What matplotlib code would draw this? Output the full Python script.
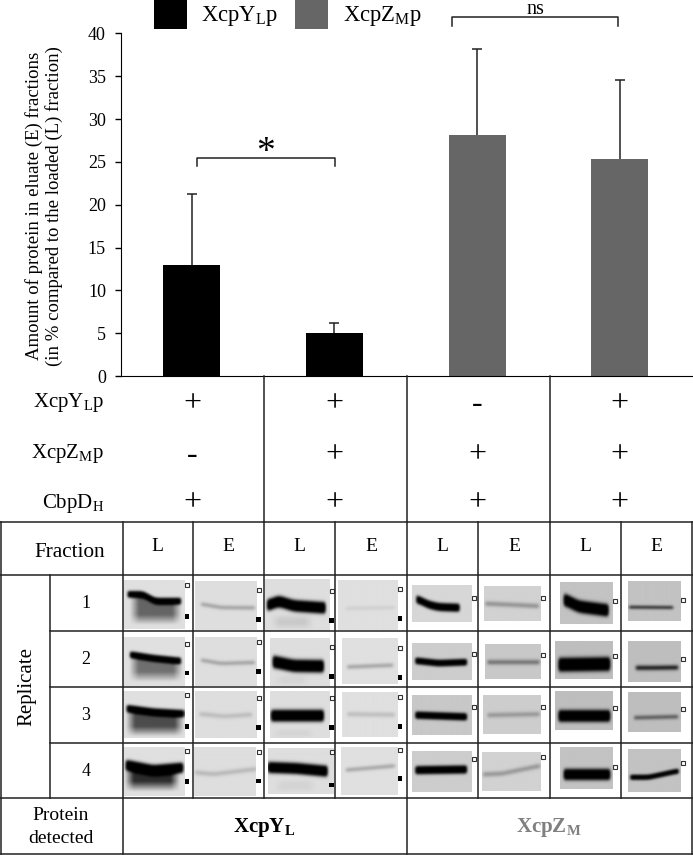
import numpy as np
import matplotlib
matplotlib.use("Agg")
import matplotlib.pyplot as plt
from matplotlib.patches import Rectangle

plt.rcParams["font.family"] = "Liberation Serif"
plt.rcParams["mathtext.fontset"] = "custom"
plt.rcParams["mathtext.rm"] = "Liberation Serif"
plt.rcParams["mathtext.bf"] = "Liberation Serif:bold"

# bar values
means = [13.0, 5.0, 28.2, 25.3]
upper_err = [8.2, 1.2, 10.0, 9.3]
bar_colors = ["black", "black", "#666666", "#666666"]
yticks = [0, 5, 10, 15, 20, 25, 30, 35, 40]

# table under the bars
row_names = ["XcpY$_{\\mathrm{L}}$p", "XcpZ$_{\\mathrm{M}}$p", "CbpD$_{\\mathrm{H}}$"]
row_signs = [["+", "+", "-", "+"], ["-", "+", "+", "+"], ["+", "+", "+", "+"]]
fractions = ["L", "E", "L", "E", "L", "E", "L", "E"]
replicates = ["1", "2", "3", "4"]

W, H = 693, 855

# blots, in 3x crop coordinates: box, background, band line, half height, strength,
# optional smear below the band, open marker, filled marker
blots_y = [
    ((10, 195, 18, 163), 224, [(28, 70, 105, 178), (60, 60, 80, 80)], 9, 1.0, (30, 185, 60, 150, .55), (201, 31), (201, 125)),
    ((224, 408, 18, 165), 222, [(245, 300, 398), (87, 97, 98)], 6, .28, None, (416, 46), (416, 134)),
    ((435, 628, 12, 168), 222, [(445, 475, 520, 610), (90, 78, 92, 98)], 16, 1.0, (450, 580, 135, 165, .14), (635, 49), (635, 136)),
    ((654, 833, 15, 165), 224, [(680, 820), (100, 97)], 6, .08, None, (840, 43), (840, 130)),
    ((10, 195, 188, 333), 224, [(35, 100, 178), (240, 250, 258)], 9, 1.0, (28, 188, 235, 320, .5), (201, 206), (201, 294)),
    ((224, 408, 186, 333), 222, [(245, 300, 398), (255, 265, 262)], 6, .28, None, (416, 202), (416, 289)),
    ((450, 628, 190, 332), 222, [(462, 520, 605), (260, 272, 273)], 17, 1.0, (460, 570, 316, 332, .12), (635, 217), (635, 304)),
    ((667, 833, 192, 328), 224, [(685, 815), (277, 272)], 6, .28, None, (840, 220), (840, 307)),
    ((10, 195, 350, 490), 224, [(25, 100, 188), (402, 412, 417)], 10, 1.0, (18, 192, 400, 485, .66), (201, 361), (201, 454)),
    ((224, 408, 350, 490), 222, [(240, 310, 390), (418, 425, 420)], 7, .16, None, (416, 370), (416, 457)),
    ((450, 628, 350, 490), 222, [(457, 605), (423, 423)], 16, 1.0, (455, 585, 480, 490, .18), (635, 370), (635, 458)),
    ((667, 833, 352, 487), 224, [(685, 820), (418, 420)], 7, .16, None, (840, 367), (840, 454)),
    ((10, 195, 517, 662), 224, [(22, 100, 185), (570, 585, 578)], 14, 1.0, (14, 180, 570, 648, .8), (201, 527), (201, 620)),
    ((222, 408, 517, 662), 222, [(228, 280, 405), (592, 597, 582)], 7, .18, None, (416, 531), (416, 618)),
    ((444, 642, 520, 656), 222, [(448, 530, 618), (577, 580, 588)], 15, 1.0, (460, 590, 630, 652, .1), (635, 532), (635, 630)),
    ((663, 833, 517, 660), 224, [(680, 820), (585, 573)], 6, .27, None, (841, 525), (840, 610)),
]
blots_z = [
    ((21, 200, 30, 140), 215, [(38, 70, 100, 158), (72, 88, 95, 97)], 11, 1.0, None, (208, 70), None),
    ((238, 408, 33, 137), 210, [(245, 398), (85, 92)], 7, .32, None, (415, 70), None),
    ((465, 623, 23, 147), 195, [(480, 520, 605), (75, 95, 106)], 17, 1.0, None, (630, 79), None),
    ((669, 827, 17, 137), 195, [(675, 800), (95, 96)], 5, .8, None, (835, 76), None),
    ((21, 200, 206, 315), 205, [(35, 100, 180), (258, 265, 262)], 9, 1.0, None, (208, 236), None),
    ((240, 408, 208, 313), 200, [(250, 400), (262, 262)], 7, .45, None, (415, 239), None),
    ((451, 623, 200, 313), 190, [(465, 610), (270, 268)], 19, 1.0, None, (630, 243), None),
    ((669, 827, 198, 321), 190, [(695, 740, 815), (278, 278, 277)], 7, .9, None, (835, 252), None),
    ((21, 200, 360, 480), 200, [(35, 180), (420, 425)], 10, 1.0, None, (208, 397), None),
    ((234, 408, 360, 477), 205, [(250, 400), (420, 417)], 7, .28, None, (415, 397), None),
    ((451, 623, 351, 466), 190, [(465, 610), (424, 424)], 16, 1.0, None, (630, 400), None),
    ((669, 827, 351, 470), 190, [(690, 815), (427, 424)], 6, .55, None, (835, 402), None),
    ((21, 200, 529, 650), 205, [(35, 180), (585, 583)], 11, 1.0, None, (208, 553), None),
    ((232, 408, 531, 647), 210, [(238, 290, 402), (597, 595, 572)], 7, .3, None, (415, 547), None),
    ((465, 623, 520, 643), 195, [(480, 610), (600, 600)], 15, 1.0, None, (630, 576), None),
    ((669, 827, 525, 652), 195, [(680, 730, 815), (608, 608, 590)], 7, .95, None, (835, 565), None),
]


def edge(v, a, b, soft):
    return np.clip((v - a) / soft, 0, 1) * np.clip((b - v) / soft, 0, 1)


def blur(img, sigma):
    r = int(3 * sigma)
    k = np.exp(-0.5 * (np.arange(-r, r + 1) / sigma) ** 2)
    k = k / k.sum()
    pad = np.pad(img, r, mode="edge")
    pad = np.apply_along_axis(lambda m: np.convolve(m, k, mode="same"), 0, pad)
    pad = np.apply_along_axis(lambda m: np.convolve(m, k, mode="same"), 1, pad)
    return pad[r:-r, r:-r]


def draw_blot(page, spec, ox, oy):
    box, bg, line, half, strength, smear, open_m, full_m = spec
    x0, x1, y0, y1 = box
    X, Y = np.meshgrid(np.arange(x0, x1), np.arange(y0, y1))
    xs = np.array(line[0], dtype=float)
    ys = np.array(line[1], dtype=float)
    yc = blur(np.interp(X, xs, ys), 8)
    if strength > .9:
        # saturated band, flat black with a soft edge
        band = 1.8 * np.exp(-(np.abs(Y - yc) / half) ** 3)
    else:
        band = strength * np.exp(-(np.abs(Y - yc) / half) ** 2)
    dark = band * edge(X, xs[0] - 8, xs[-1] + 8, 10)
    if smear is not None:
        a, b, c, d, s = smear
        # smear only shows under the band line
        below = np.clip((Y - yc) / 6, 0, 1)
        dark = dark + s * edge(X, a, b, 28) * edge(Y, c - 20, d, 30) * below
    img = blur(bg * (1 - np.clip(dark, 0, 1)), 3)
    page.imshow(img, cmap="gray", vmin=0, vmax=255, aspect="auto", zorder=1,
                extent=(ox + x0 / 3, ox + x1 / 3, oy + y1 / 3, oy + y0 / 3))
    if open_m is not None:
        page.add_patch(Rectangle((ox + open_m[0] / 3 - 2, oy + open_m[1] / 3 - 2), 4, 4,
                                 fc="white", ec="#333333", lw=0.8, zorder=2))
    if full_m is not None:
        page.add_patch(Rectangle((ox + full_m[0] / 3 - 2.3, oy + full_m[1] / 3 - 2.3), 4.6, 4.6,
                                 fc="black", ec="none", zorder=2))


fig = plt.figure(figsize=(W / 100, H / 100), dpi=100)

# page axes in pixels, holds the table and the blots
page = fig.add_axes([0, 0, 1, 1])
page.axis("off")

for (spec_list, ox) in ((blots_y, 120), (blots_z, 405)):
    for spec in spec_list:
        draw_blot(page, spec, ox, 575)
page.set_xlim(0, W)
page.set_ylim(H, 0)

# grid lines
line_col = "#222222"
lw = 1.1
for x in [264, 407, 549.5]:
    page.plot([x, x], [376, 522], color=line_col, lw=lw)
for y in [522, 575, 798, 854]:
    page.plot([0, W], [y, y], color=line_col, lw=lw)
for y in [631, 687, 743]:
    page.plot([50, W], [y, y], color=line_col, lw=lw)
for x in [122.5, 193, 264, 335, 407, 478, 549.5, 621]:
    page.plot([x, x], [522, 798], color=line_col, lw=lw)
page.plot([50, 50], [575, 798], color=line_col, lw=lw)
for x in [0.7, 692.3]:
    page.plot([x, x], [522, 854], color=line_col, lw=lw)
for x in [122.5, 407]:
    page.plot([x, x], [798, 854], color=line_col, lw=lw)

# bar chart
ax = fig.add_axes([120.5 / W, 1 - 376 / H, 572 / W, (376 - 33.5) / H])
ax.patch.set_alpha(0)
xpos = np.arange(len(means))
ax.bar(xpos, means, width=0.4, color=bar_colors)
tops = np.array(means) + np.array(upper_err)
ax.errorbar(xpos, means, yerr=[[0] * 4, upper_err], fmt="none", ecolor="#222222", elinewidth=1.1)
ax.plot(xpos, tops, "_", color="#222222", ms=7, mew=1.1)
ax.set_xlim(-0.5, 3.51)
ax.set_ylim(0, 40)
ax.set_yticks(yticks)
ax.set_xticks([])
ax.tick_params(axis="y", labelsize=13, length=4.5, width=1, pad=6)
ax.spines["top"].set_visible(False)
ax.spines["right"].set_visible(False)
ax.set_ylabel("Amount of protein in eluate (E) fractions\n(in % compared to the loaded (L) fraction)",
              fontsize=13.5, linespacing=1.15)
ax.yaxis.set_label_coords(-0.1, 0.497)

# legend and brackets
page.set_zorder(ax.get_zorder() + 1)
page.patch.set_alpha(0)
page.add_patch(Rectangle((154, 0), 33, 29, fc="black", ec="none"))
page.add_patch(Rectangle((295, 0), 33, 29, fc="#666666", ec="none"))
page.text(201, 16, "XcpY$_{\\mathrm{L}}$p", fontsize=16.3, va="center")
page.text(343, 16, "XcpZ$_{\\mathrm{M}}$p", fontsize=16.3, va="center")
page.plot([197, 197, 335, 335], [166, 158.5, 158.5, 166], color=line_col, lw=1.1)
page.text(266, 153, "*", fontsize=27, ha="center", va="center")
page.plot([452, 452, 618, 618], [26, 17.5, 17.5, 26], color=line_col, lw=1.1)
page.text(535, 10, "ns", fontsize=14.5, ha="center", va="center")

# +/- rows
sign_y = [404, 455, 503]
name_y = [402, 453, 503]
col_x = [192, 334, 477, 619]
for i, name in enumerate(row_names):
    page.text(104, name_y[i], name, fontsize=15, ha="right", va="center")
    for j, sign in enumerate(row_signs[i]):
        page.text(col_x[j], sign_y[i], sign, fontsize=23, ha="center", va="center")

# table labels
page.text(70, 552, "Fraction", fontsize=15.3, ha="center", va="center")
cell_x = [157.5, 228.5, 299.5, 371, 442.5, 514, 585, 656.5]
for x, lab in zip(cell_x, fractions):
    page.text(x, 546, lab, fontsize=14, ha="center", va="center")
page.text(27, 686, "Replicate", fontsize=15, rotation=90, ha="center", va="center")
for y, lab in zip([603, 659, 715, 771], replicates):
    page.text(86, y, lab, fontsize=13, ha="center", va="center")
page.text(61, 827, "Protein\ndetected", fontsize=14, ha="center", va="center", linespacing=1.4)
page.text(264, 827, "XcpY$_{\\mathbf{L}}$", fontsize=15, fontweight="bold", ha="center", va="center")
page.text(549, 827, "XcpZ$_{\\mathbf{M}}$", fontsize=15, fontweight="bold", color="#808080", ha="center", va="center")

fig.savefig("out.png", dpi=100)
